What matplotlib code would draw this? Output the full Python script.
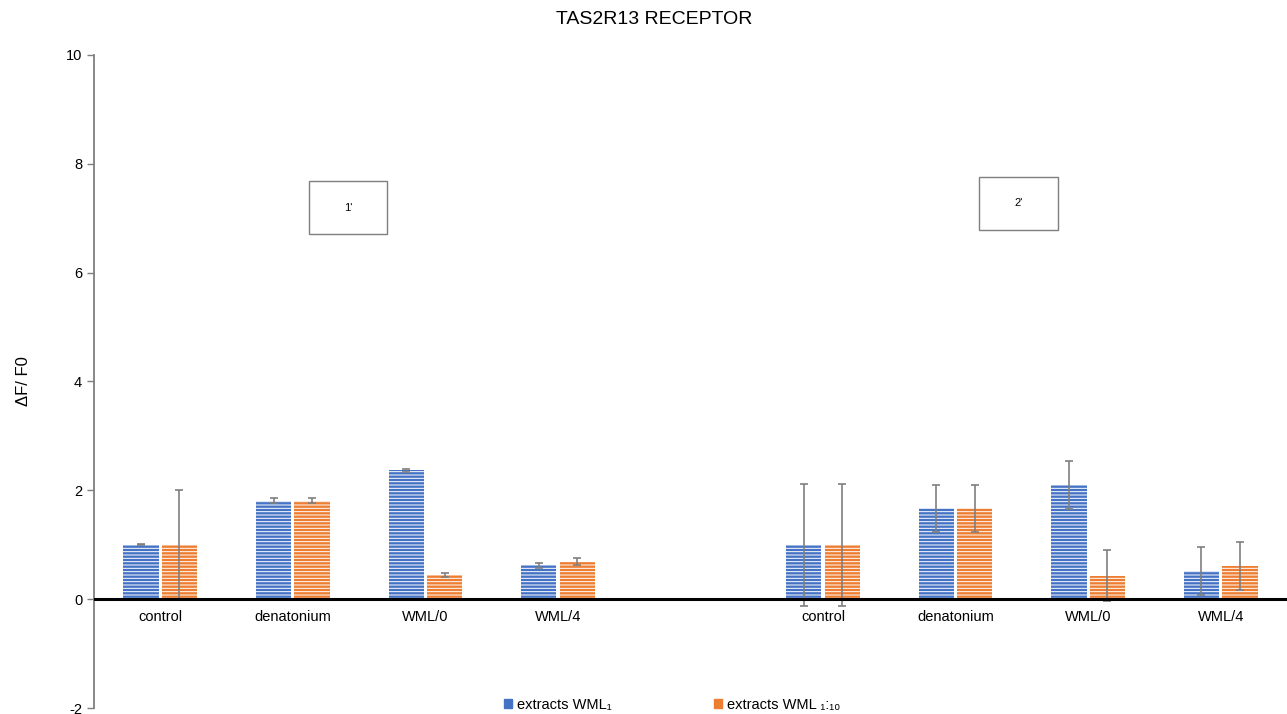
import matplotlib.pyplot as plt
import matplotlib.patches as mpatches
import numpy as np

# two experiments (1' and 2'), an empty slot separates them on the axis
categories = ['control', 'denatonium', 'WML/0', 'WML/4', '',
              'control', 'denatonium', 'WML/0', 'WML/4']

wml1_vals = [1.00, 1.81, 2.37, 0.62, np.nan, 1.00, 1.67, 2.10, 0.51]
wml1_err = [0.01, 0.05, 0.03, 0.04, 0.0, 1.12, 0.43, 0.44, 0.44]

wml110_vals = [1.00, 1.81, 0.44, 0.69, np.nan, 1.00, 1.67, 0.43, 0.61]
wml110_err = [1.00, 0.05, 0.04, 0.07, 0.0, 1.12, 0.43, 0.47, 0.44]

series_labels = ['extracts WML\u2081', 'extracts WML \u2081:\u2081\u2080']
group_labels = ["1'", "2'"]

blue = '#4472C4'
orange = '#ED7D31'
grey = '#7F7F7F'

plt.rcParams['font.family'] = ['Liberation Sans', 'DejaVu Sans']
plt.rcParams['hatch.linewidth'] = 0.7
plt.rcParams['axes.unicode_minus'] = False

fig = plt.figure(figsize=(12.87, 7.14), dpi=100)
ax = fig.add_axes([0.073, 0.0084, 0.927, 0.9146])

x = np.arange(len(categories))
w = 0.265
off = 0.145

ax.bar(x - off, wml1_vals, w, color=blue, edgecolor='white',
       hatch='-----', linewidth=0, label=series_labels[0])
ax.bar(x + off, wml110_vals, w, color=orange, edgecolor='white',
       hatch='-----', linewidth=0, label=series_labels[1])

ax.errorbar(x - off, wml1_vals, yerr=wml1_err, fmt='none', ecolor=grey,
            elinewidth=1.2, capsize=3, capthick=1.2)
ax.errorbar(x + off, wml110_vals, yerr=wml110_err, fmt='none', ecolor=grey,
            elinewidth=1.2, capsize=3, capthick=1.2)

ax.set_xlim(-0.5, len(categories) - 0.5)
ax.set_ylim(-2, 10)
ax.set_yticks([-2, 0, 2, 4, 6, 8, 10])
ax.tick_params(axis='y', labelsize=10.5, color=grey, length=5, width=1)
ax.set_xticks([])

for s in ['top', 'right', 'bottom']:
    ax.spines[s].set_visible(False)
ax.spines['left'].set_color(grey)
ax.spines['left'].set_linewidth(1.3)
ax.axhline(0, color='black', lw=2.2, zorder=5)

# category names sit just under the zero line
for xi, name in zip(x, categories):
    ax.text(xi, -0.2, name, ha='center', va='top', fontsize=10.5)

ax.set_ylabel('\u0394F/ F0', fontsize=12,
              family=['Liberation Sans Narrow', 'Liberation Sans', 'DejaVu Sans'])
ax.yaxis.set_label_coords(-0.053, 0.5)

fig.text(0.508, 0.973, 'TAS2R13 RECEPTOR', ha='center', va='center',
         fontsize=14)

# experiment tags
for (bx, by), lab in zip([(0.240, 0.672), (0.761, 0.678)], group_labels):
    rect = mpatches.Rectangle((bx, by), 0.061, 0.074, transform=fig.transFigure,
                              fill=False, edgecolor='#7F7F7F', lw=1.0)
    fig.add_artist(rect)
    fig.text(bx + 0.0305, by + 0.037, lab, ha='center', va='center',
             fontsize=8, family=['Liberation Sans', 'DejaVu Sans'])

handles = [mpatches.Patch(color=blue), mpatches.Patch(color=orange)]
fig.legend(handles, series_labels, loc='center', bbox_to_anchor=(0.522, 0.013),
           ncol=2, frameon=False, fontsize=10.5, handlelength=0.6,
           handleheight=0.6, handletextpad=0.3, columnspacing=7.0)

fig.savefig('out.png', dpi=100)
